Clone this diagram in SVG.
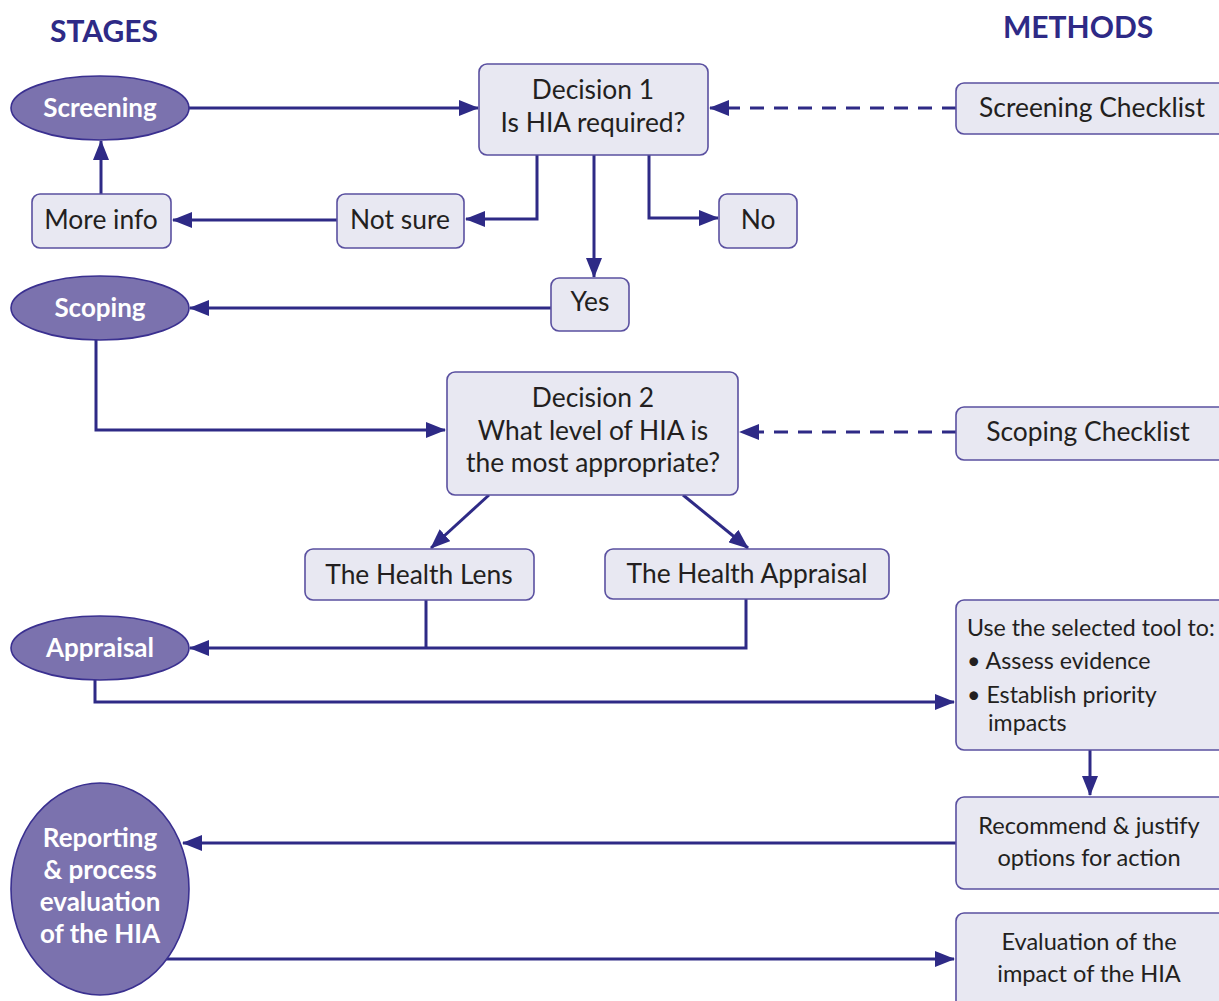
<svg xmlns="http://www.w3.org/2000/svg" width="1219" height="1001" viewBox="0 0 1219 1001">
<style>
.box{fill:#e8e8f2;stroke:#5a50a0;stroke-width:1.6}
.stage{fill:#7b72ae;stroke:#3a3090;stroke-width:1.6}
.t{font-family:Lato,"Liberation Sans",sans-serif;font-size:26.4px;fill:#231f20;text-anchor:middle}
.t2{font-family:Lato,"Liberation Sans",sans-serif;font-size:23.6px;fill:#231f20;text-anchor:middle}
.tl{font-family:Lato,"Liberation Sans",sans-serif;font-size:23.2px;fill:#231f20}
.s{font-family:Lato,"Liberation Sans",sans-serif;font-size:26px;font-weight:bold;fill:#ffffff;text-anchor:middle}
.h{font-family:Lato,"Liberation Sans",sans-serif;font-size:30px;font-weight:bold;fill:#2e2a86}
.c{fill:none;stroke:#2e2a86;stroke-width:3}
.d{stroke-dasharray:14,10}
</style>
<defs>
<marker id="ah" markerUnits="userSpaceOnUse" markerWidth="20" markerHeight="16" refX="19" refY="8" orient="auto">
<path d="M0,0 L20,8 L0,16 Z" fill="#2e2a86"/>
</marker>
</defs>
<rect width="1219" height="1001" fill="#ffffff"/>
<text class="h" x="50" y="42">STAGES</text>
<text class="h" x="1003" y="38">METHODS</text>

<g id="connectors">
<path class="c" d="M188,108 H478" marker-end="url(#ah)"/>
<path class="c d" d="M956,108 H710" marker-end="url(#ah)"/>
<path class="c" d="M537,155 V219 H466" marker-end="url(#ah)"/>
<path class="c" d="M594,155 V277" marker-end="url(#ah)"/>
<path class="c" d="M649,155 V218 H718" marker-end="url(#ah)"/>
<path class="c" d="M337,220 H173" marker-end="url(#ah)"/>
<path class="c" d="M101,194 V141" marker-end="url(#ah)"/>
<path class="c" d="M551,308 H190" marker-end="url(#ah)"/>
<path class="c" d="M96,340 V430 H445" marker-end="url(#ah)"/>
<path class="c d" d="M956,432 H740" marker-end="url(#ah)"/>
<path class="c" d="M489,495 L431,548" marker-end="url(#ah)"/>
<path class="c" d="M683,495 L748,548" marker-end="url(#ah)"/>
<path class="c" d="M426,600 V648"/>
<path class="c" d="M746,599 V648 H190" marker-end="url(#ah)"/>
<path class="c" d="M95,680 V702 H954" marker-end="url(#ah)"/>
<path class="c" d="M1090,750 V795" marker-end="url(#ah)"/>
<path class="c" d="M956,843 H183" marker-end="url(#ah)"/>
<path class="c" d="M165,959 H954" marker-end="url(#ah)"/>
</g>

<g id="screening"><ellipse class="stage" cx="100" cy="108" rx="89" ry="32"/><text class="s" x="100" y="117">Screening</text></g>
<g id="scoping"><ellipse class="stage" cx="100" cy="308" rx="89" ry="32"/><text class="s" x="100" y="317">Scoping</text></g>
<g id="appraisal"><ellipse class="stage" cx="100" cy="648" rx="89" ry="32"/><text class="s" x="100" y="657">Appraisal</text></g>
<g id="reporting"><ellipse class="stage" cx="100" cy="889" rx="89" ry="106"/>
<text class="s" x="100" y="847">Reporting</text><text class="s" x="100" y="879">&amp; process</text><text class="s" x="100" y="911">evaluation</text><text class="s" x="100" y="943">of the HIA</text></g>

<g id="decision1"><rect class="box" x="479" y="64" width="229" height="91" rx="8"/><text class="t" x="593" y="99">Decision 1</text><text class="t" x="593" y="132">Is HIA required?</text></g>
<g id="screening-checklist"><rect class="box" x="956" y="83" width="270" height="51" rx="8"/><text class="t" x="1092" y="117">Screening Checklist</text></g>
<g id="more-info"><rect class="box" x="32" y="194" width="139" height="54" rx="8"/><text class="t" x="101" y="229">More info</text></g>
<g id="not-sure"><rect class="box" x="337" y="194" width="127" height="54" rx="8"/><text class="t" x="400" y="229">Not sure</text></g>
<g id="no"><rect class="box" x="719" y="194" width="78" height="54" rx="8"/><text class="t" x="758" y="229">No</text></g>
<g id="yes"><rect class="box" x="551" y="278" width="78" height="53" rx="8"/><text class="t" x="590" y="311">Yes</text></g>
<g id="decision2"><rect class="box" x="447" y="372" width="291" height="123" rx="8"/><text class="t" x="593" y="407">Decision 2</text><text class="t" x="593" y="440">What level of HIA is</text><text class="t" x="593" y="472">the most appropriate?</text></g>
<g id="scoping-checklist"><rect class="box" x="956" y="407" width="270" height="53" rx="8"/><text class="t" x="1088" y="441">Scoping Checklist</text></g>
<g id="health-lens"><rect class="box" x="305" y="549" width="229" height="51" rx="8"/><text class="t" x="419" y="584">The Health Lens</text></g>
<g id="health-appraisal"><rect class="box" x="605" y="549" width="284" height="50" rx="8"/><text class="t" x="747" y="583">The Health Appraisal</text></g>
<g id="use-tool"><rect class="box" x="956" y="600" width="270" height="150" rx="8"/>
<text class="tl" x="967" y="636">Use the selected tool to:</text>
<text class="tl" x="967" y="669">• Assess evidence</text>
<text class="tl" x="967" y="703">• Establish priority</text>
<text class="tl" x="988" y="731">impacts</text></g>
<g id="recommend"><rect class="box" x="956" y="797" width="270" height="92" rx="8"/><text class="t2" x="1089" y="834">Recommend &amp; justify</text><text class="t2" x="1089" y="866">options for action</text></g>
<g id="evaluation"><rect class="box" x="956" y="913" width="270" height="100" rx="8"/><text class="t2" x="1089" y="950">Evaluation of the</text><text class="t2" x="1089" y="982">impact of the HIA</text></g>
</svg>
